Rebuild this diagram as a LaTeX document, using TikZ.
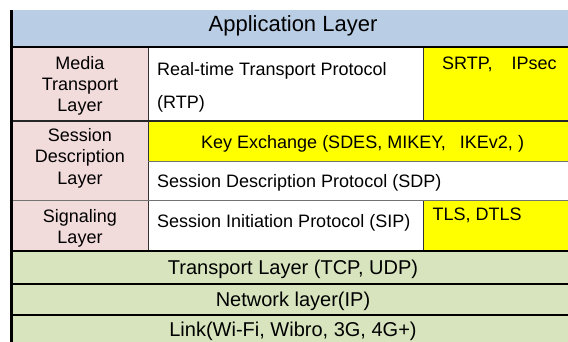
\documentclass[tikz,border=0pt]{standalone}
\usepackage{fontspec}
\setmainfont{Liberation Sans}
\definecolor{appblue}{HTML}{B9CDE5}
\definecolor{layerpink}{HTML}{F2DCDB}
\definecolor{keyyellow}{HTML}{FFFF00}
\definecolor{netgreen}{HTML}{D7E4BD}
\tikzset{
	cell/.style={inner sep=0pt, anchor=base, font=\fontsize{18}{21.3}\selectfont},
	leftcell/.style={cell, anchor=center, align=center},
	rowtext/.style={cell, anchor=base west},
	band/.style={cell, font=\fontsize{20}{24}\selectfont},
	bar/.style={line width=2pt, black},
	grid/.style={line width=0.8pt, black!55}
}
\begin{document}
\begin{tikzpicture}[x=1pt, y=-1pt]
	\useasboundingbox (0,0) rectangle (568,342);
	% cell fills
	\fill[appblue] (11,10) rectangle (568,47);
	\fill[layerpink] (11,47) rectangle (148,251);
	\fill[white] (148,47) rectangle (423,121);
	\fill[keyyellow] (423,47) rectangle (568,121);
	\fill[keyyellow] (148,121) rectangle (568,161);
	\fill[white] (148,161) rectangle (568,200);
	\fill[white] (148,200) rectangle (423,251);
	\fill[keyyellow] (423,200) rectangle (568,251);
	\fill[netgreen] (11,251) rectangle (568,342);
	% rules
	\draw[grid, black!80] (148,47) -- (148,251);
	\draw[grid, black!80] (423,47) -- (423,121);
	\draw[grid, black!80] (423,200) -- (423,251);
	\draw[grid] (148,161) -- (568,161);
	\draw[grid] (11,200) -- (568,200);
	\draw[grid, line width=1.4pt, black!85] (11,121) -- (568,121);
	\draw[bar] (11,47) -- (568,47);
	\draw[bar] (11,251) -- (568,251);
	\draw[bar] (11,283.5) -- (568,283.5);
	\draw[bar] (11,315) -- (568,315);
	\draw[line width=3pt] (11,10) -- (11,342);
	% texts
	\node[cell, font=\fontsize{22}{26}\selectfont] (app) at (293,32) {Application Layer};
	\node[leftcell] (media) at (80,85.7) {Media\\Transport\\Layer};
	\node[rowtext] (rtp) at (157,75.7) {Real-time Transport Protocol};
	\node[rowtext] (rtpabbr) at (157,109) {(RTP)};
	\node[rowtext] (srtp) at (442,70) {SRTP,\hspace{14pt} IPsec};
	\node[leftcell] (sdesc) at (80,158.3) {Session\\Description\\Layer};
	\node[rowtext] (keyx) at (201,148.3) {Key Exchange (SDES, MIKEY,\hspace{9pt} IKEv2, )};
	\node[rowtext] (sdp) at (157,187.3) {Session Description Protocol (SDP)};
	\node[leftcell] (signal) at (80,228.3) {Signaling\\Layer};
	\node[rowtext] (sip) at (157,227.3) {Session Initiation Protocol (SIP)};
	\node[rowtext] (tls) at (432.5,220.7) {TLS, DTLS};
	\node[band] (transport) at (293,274.3) {Transport Layer (TCP, UDP)};
	\node[band] (network) at (293,306) {Network layer(IP)};
	\node[band] (link) at (293,336) {Link(Wi-Fi, Wibro, 3G, 4G+)};
\end{tikzpicture}
\end{document}
